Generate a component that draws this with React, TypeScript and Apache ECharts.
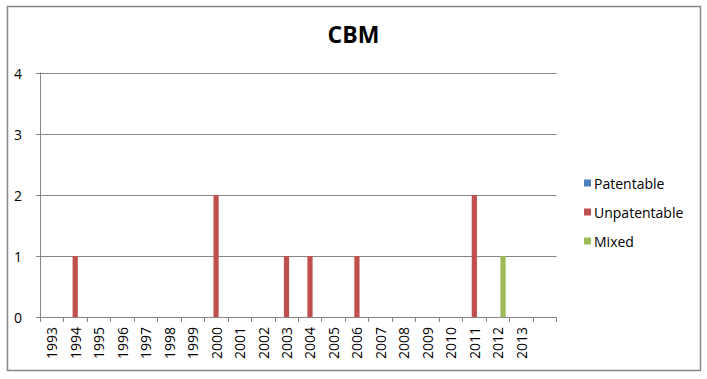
import React, { useEffect, useRef } from "react";
import * as echarts from "echarts";

const categories = [
  "1993", "1994", "1995", "1996", "1997", "1998", "1999", "2000", "2001", "2002", "2003",
  "2004", "2005", "2006", "2007", "2008", "2009", "2010", "2011", "2012", "2013", "",
];
const patentable = [0, 0, 0, 0, 0, 0, 0, 0, 0, 0, 0, 0, 0, 0, 0, 0, 0, 0, 0, 0, 0, 0];
const unpatentable = [0, 1, 0, 0, 0, 0, 0, 2, 0, 0, 1, 1, 0, 1, 0, 0, 0, 0, 2, 0, 0, 0];
const mixed = [0, 0, 0, 0, 0, 0, 0, 0, 0, 0, 0, 0, 0, 0, 0, 0, 0, 0, 0, 1, 0, 0];
const yTicks = { min: 0, max: 4, interval: 1 };

const FONT = "'Open Sans', 'Noto Sans', sans-serif";
const GRID_COLOR = "#868686";

export default function App() {
  const ref = useRef<HTMLDivElement>(null);
  useEffect(() => {
    if (!ref.current) return;
    const chart = echarts.init(ref.current, undefined, { renderer: "svg" });
    chart.setOption({
      animation: false,
      backgroundColor: "#ffffff",
      title: {
        text: "CBM",
        left: "center",
        top: 17,
        textStyle: { fontFamily: FONT, fontSize: 23, fontWeight: "bold", color: "#000" },
      },
      legend: {
        orient: "vertical",
        left: 579,
        top: 168,
        itemWidth: 7,
        itemHeight: 7,
        itemGap: 9,
        icon: "rect",
        textStyle: { fontFamily: FONT, fontSize: 14, color: "#000", padding: [0, 0, 0, -2], lineHeight: 20 },
        data: ["Patentable", "Unpatentable", "Mixed"],
      },
      grid: { left: 40, right: 150.5, top: 73, bottom: 62, containLabel: false },
      xAxis: {
        type: "category",
        data: categories,
        boundaryGap: true,
        axisLine: { lineStyle: { color: GRID_COLOR, width: 1 } },
        axisTick: { show: true, length: 5, lineStyle: { color: GRID_COLOR } },
        axisLabel: {
          rotate: 90,
          interval: 0,
          margin: 10,
          fontFamily: FONT,
          fontSize: 14,
          color: "#000",
        },
      },
      yAxis: {
        type: "value",
        min: yTicks.min,
        max: yTicks.max,
        interval: yTicks.interval,
        axisLine: { show: true, lineStyle: { color: GRID_COLOR, width: 1 } },
        axisTick: { show: true, length: 4, lineStyle: { color: GRID_COLOR } },
        splitLine: { show: true, lineStyle: { color: GRID_COLOR, width: 1 } },
        axisLabel: { margin: 18, fontFamily: FONT, fontSize: 14, color: "#000" },
      },
      series: [
        {
          name: "Patentable",
          type: "bar",
          data: patentable,
          itemStyle: { color: "#4F81BD" },
          barGap: "0%",
          barCategoryGap: "33.3%",
        },
        {
          name: "Unpatentable",
          type: "bar",
          data: unpatentable,
          itemStyle: { color: "#C0504D" },
          barGap: "0%",
          barCategoryGap: "33.3%",
        },
        {
          name: "Mixed",
          type: "bar",
          data: mixed,
          itemStyle: { color: "#9BBB59" },
          barGap: "0%",
          barCategoryGap: "33.3%",
        },
      ],
      graphic: [
        {
          type: "rect",
          shape: { x: 7.5, y: 6.5, width: 693, height: 364 },
          style: { fill: "none", stroke: GRID_COLOR, lineWidth: 1.5 },
          silent: true,
        },
      ],
    });
    return () => chart.dispose();
  }, []);
  return (
    <div
      ref={ref}
      style={{ position: "fixed", left: 0, top: 0, width: 707, height: 379 }}
    />
  );
}
